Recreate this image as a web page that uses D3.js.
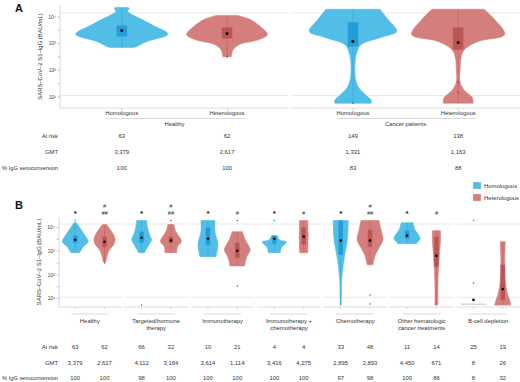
<!DOCTYPE html>
<html><head><meta charset="utf-8">
<script src="https://cdn.jsdelivr.net/npm/d3@7"></script>
<style>body{margin:0;background:#fff}svg{display:block;font-family:"Liberation Sans",Arial,sans-serif}</style>
</head><body><svg id="c" width="520" height="382"></svg>
<script>
// ---------- data ----------
const vaccineTypes = ["Homologous", "Heterologous"];
const yTickLabels = ["10¹", "10²", "10³", "10⁴"];
const yTickValues = [1, 2, 3, 4];
const rowLabels = ["At risk", "GMT", "% IgG seroconversion"];
const yTitle = "SARS–CoV–2 S1–IgG (BAU/mL)";

// Panel A
const aGroups = ["Healthy", "Cancer patients"];
const aAtRisk = [63, 62, 149, 138];
const aGMT = ["3,379", "2,617", "1,331", "1,163"];
const aSero = [100, 100, 83, 88];
// violin density profiles: [log10 value, relative half-width]
const aProfiles = [
  [[2.85,0.25],[2.89,0.32],[3.08,0.54],[3.27,0.92],[3.34,0.99],[3.42,0.97],[3.65,0.71],[3.91,0.43],[4.14,0.17],[4.22,0.12],[4.30,0.16],[4.36,0.14]],
  [[2.51,0.09],[2.77,0.13],[2.96,0.26],[3.15,0.69],[3.34,0.87],[3.65,0.71],[3.91,0.49],[4.06,0.22]],
  [[0.76,0.39],[0.87,0.39],[1.06,0.28],[1.33,0.13],[1.63,0.06],[2.01,0.04],[2.39,0.05],[2.70,0.09],[2.96,0.17],[3.23,0.6],[3.46,0.94],[3.91,0.75],[4.29,0.58]],
  [[0.76,0.32],[0.83,0.32],[0.98,0.3],[1.25,0.13],[1.55,0.04],[2.01,0.04],[2.46,0.06],[2.77,0.13],[3.08,0.43],[3.34,1.0],[3.91,0.78],[4.29,0.56]]
];
// [q1, median, q3] in log10
const aBoxes = [[3.27,3.49,3.68],[3.19,3.38,3.61],[2.89,3.08,3.80],[2.77,3.04,3.61]];
const aOutliers = [[], [2.51], [0.76], [1.56, 1.17]];

// Panel B
const bGroups = ["Healthy", "Targeted/hormone\ntherapy", "Immunotherapy", "Immunotherapy +\nchemotherapy", "Chemotherapy", "Other hematologic\ncancer treatments", "B-cell depletion"];
const bAtRisk = [63, 62, 66, 32, 10, 21, 4, 4, 33, 48, 11, 14, 25, 19];
const bGMT = ["3,379", "2,617", "4,112", "3,164", "3,614", "1,114", "3,416", "4,275", "2,895", "2,893", "4,450", "671", "8", "26"];
const bSero = [100, 100, 98, 100, 100, 100, 100, 100, 97, 98, 100, 86, 8, 32];
const bProfiles = [
  [[2.94,0.3],[2.98,0.37],[3.19,0.59],[3.40,0.96],[3.62,0.78],[3.91,0.44],[4.13,0.18],[4.21,0.1]],
  [[2.55,0.1],[2.81,0.19],[3.06,0.37],[3.28,0.67],[3.49,0.78],[3.70,0.67],[3.91,0.44],[4.13,0.15]],
  [[2.94,0.22],[3.11,0.37],[3.32,0.59],[3.49,0.74],[3.70,0.59],[4.0,0.44],[4.30,0.37]],
  [[2.94,0.44],[3.06,0.44],[3.23,0.52],[3.40,0.78],[3.57,0.67],[3.83,0.37],[4.13,0.22]],
  [[2.77,0.59],[2.98,0.67],[3.28,0.74],[3.49,0.67],[3.83,0.52],[4.30,0.52]],
  [[2.38,0.55],[2.55,0.59],[2.81,0.74],[3.06,0.96],[3.49,0.59],[3.83,0.37]],
  [[2.94,0.44],[3.15,0.52],[3.32,0.81],[3.40,0.89],[3.49,0.37],[3.66,0.22]],
  [[2.94,0.3],[3.6,0.33],[4.30,0.3]],
  [[0.72,0.04],[1.15,0.05],[1.79,0.07],[2.43,0.19],[2.85,0.3],[3.28,0.44],[3.70,0.52],[4.30,0.56]],
  [[2.43,0.22],[2.81,0.37],[3.15,0.67],[3.49,0.96],[3.91,0.81],[4.30,0.67]],
  [[3.32,0.67],[3.40,0.81],[3.53,0.96],[3.66,0.89],[3.91,0.59],[4.21,0.44]],
  [[0.72,0.11],[1.57,0.11],[2.21,0.15],[2.85,0.22],[3.49,0.3],[3.87,0.3]],
  [[0.76,0.93],[0.78,0.93]],
  [[0.72,0.6],[0.94,0.5],[1.15,0.37],[1.57,0.22],[2.21,0.15],[2.85,0.15],[3.40,0.19]]
];
const bBoxes = [
  [3.36,3.49,3.66],[3.19,3.40,3.62],[3.36,3.57,3.83],[3.36,3.45,3.62],
  [3.28,3.53,4.0],[2.72,3.02,3.36],[3.32,3.53,3.66],[3.28,3.62,4.0],
  [2.85,3.45,4.30],[3.19,3.45,3.91],[3.53,3.66,3.87],[2.34,2.81,3.62],
  [0.94,0.94,0.94],[0.94,1.40,2.43]
];
const bOutliers = [[4.30],[2.51],[0.72],[4.30],[],[4.30,1.53],[4.30],[],[],[1.15,0.77],[],[],[4.30,1.66],[]];
const bStars = ["*", "*", "*", "*", "*", "*", ""];
const bHashes = [["#","##"],["#","##"],["#"],["#"],["#","##"],["#"],[]];

const refLines = [4.15, 1.05];

// ---------- drawing ----------
const colors = {
  Homologous: {fill: "#52bde7", box: "#1b98d3", pt: "#1b98d3"},
  Heterologous: {fill: "#d47f7d", box: "#b74f4d", pt: "#c03c39"}
};
const svg = d3.select("#c");
const FS = 5.9;

function fitText(sel, maxW) {
  const n = sel.node();
  if (n.getComputedTextLength() > maxW) sel.attr("textLength", maxW).attr("lengthAdjust", "spacingAndGlyphs");
}

function drawPanel(o) {
  const g = svg.append("g");
  const fx = d3.scaleBand().domain(o.groups).range(o.xRange).paddingInner(o.facetPad);
  const ix = d3.scalePoint().domain(vaccineTypes).range([0, fx.bandwidth()]).padding(0.587);
  const y = d3.scaleLinear().domain(o.yDomain).range(o.yRange);
  const w = d3.scaleLinear().domain([0, 1]).range([0, o.maxHW]);
  const xPos = (gi, vi) => fx(o.groups[gi]) + ix(vaccineTypes[vi]);

  o.groups.forEach((grp, gi) => {
    const x0 = fx(grp), x1 = x0 + fx.bandwidth();
    refLines.forEach(v => g.append("line").attr("x1", x0).attr("x2", x1)
      .attr("y1", y(v)).attr("y2", y(v)).attr("stroke", "#e4e4e4").attr("stroke-width", 0.8));
    g.append("line").attr("x1", x0).attr("x2", x1).attr("y1", o.yRange[0]).attr("y2", o.yRange[0])
      .attr("stroke", "#d4d4d4").attr("stroke-width", 0.8);
    vaccineTypes.forEach((vt, vi) => g.append("line").attr("x1", xPos(gi, vi)).attr("x2", xPos(gi, vi))
      .attr("y1", o.yRange[0]).attr("y2", o.yRange[0] + 2).attr("stroke", "#bbb").attr("stroke-width", 0.6));
    g.append("line").attr("x1", xPos(gi, 0) - o.brPad[0]).attr("x2", xPos(gi, 1) + o.brPad[1])
      .attr("y1", o.brY).attr("y2", o.brY).attr("stroke", "#d0d0d0").attr("stroke-width", 0.8);
    const lines = grp.split("\n");
    const cxF = fx(grp) + fx.bandwidth() / 2;
    const t = g.append("text").attr("x", cxF).attr("y", o.glY)
      .attr("text-anchor", "middle").attr("font-size", FS).attr("fill", "#333");
    lines.forEach((l, li) => t.append("tspan").attr("x", cxF).attr("dy", li ? 6.5 : 0).text(l));
    if (o.catLabels) vaccineTypes.forEach((vt, vi) => g.append("text").attr("x", xPos(gi, vi)).attr("y", o.catY)
      .attr("text-anchor", "middle").attr("font-size", FS).attr("fill", "#333").text(vt));
  });

  // y axis
  g.append("line").attr("x1", o.axisX).attr("x2", o.axisX).attr("y1", o.yRange[0]).attr("y2", o.yRange[1])
    .attr("stroke", "#cfcfcf").attr("stroke-width", 0.8);
  d3.range(1, 4.01, 0.5).forEach(v => g.append("line").attr("x1", o.axisX - 2.5).attr("x2", o.axisX)
    .attr("y1", y(v)).attr("y2", y(v)).attr("stroke", "#aaa").attr("stroke-width", 0.6));
  yTickValues.forEach((v, i) => g.append("text").attr("x", o.axisX - 4).attr("y", y(v) + 1.8)
    .attr("text-anchor", "end").attr("font-size", 5).attr("fill", "#444").text(yTickLabels[i]));
  const yc = (o.yRange[0] + o.yRange[1]) / 2;
  g.append("text").attr("transform", `translate(${o.axisX - 18},${yc}) rotate(-90)`)
    .attr("text-anchor", "middle").attr("font-size", FS).attr("fill", "#333").text(yTitle);

  // violins
  const area = d3.area().curve(d3.curveCatmullRom.alpha(0.5));
  o.profiles.forEach((prof, k) => {
    const gi = Math.floor(k / 2), vi = k % 2, vt = vaccineTypes[vi], c = colors[vt];
    const cx = xPos(gi, vi);
    const ext = d3.extent(prof, d => d[0]);
    const flat = Math.abs(y(ext[0]) - y(ext[1])) < 1.5;
    if (flat) {
      g.append("line").attr("x1", cx - w(prof[0][1])).attr("x2", cx + w(prof[0][1]))
        .attr("y1", y(ext[0])).attr("y2", y(ext[0])).attr("stroke", "#bdbdbd").attr("stroke-width", 0.9);
    } else {
      area.y(d => y(d[0])).x0(d => cx - w(d[1])).x1(d => cx + w(d[1]));
      g.append("path").attr("d", area(prof)).attr("fill", c.fill).attr("stroke", c.fill)
        .attr("stroke-width", 0.6);
      g.append("line").attr("x1", cx).attr("x2", cx).attr("y1", y(ext[0])).attr("y2", y(ext[1]))
        .attr("stroke", c.box).attr("stroke-width", 0.5).attr("opacity", 0.7);
    }
    const [q1, med, q3] = o.boxes[k];
    if (q3 > q1) g.append("rect").attr("x", cx - o.boxW / 2).attr("width", o.boxW)
      .attr("y", y(q3)).attr("height", y(q1) - y(q3)).attr("fill", c.box).attr("opacity", 0.85);
    o.outliers[k].forEach(v => g.append("circle").attr("cx", cx).attr("cy", y(v)).attr("r", o.ptR)
      .attr("fill", c.pt));
    g.append("circle").attr("cx", cx).attr("cy", y(med)).attr("r", o.medR).attr("fill", "#000");
  });

  // table
  o.rows.forEach((vals, ri) => {
    const ty = o.tableY[ri];
    const lab = g.append("text").attr("x", 58).attr("y", ty).attr("text-anchor", "end").attr("font-size", FS)
      .attr("fill", "#333").text(rowLabels[ri]);
    fitText(lab, 56);
    vals.forEach((v, k) => g.append("text").attr("x", xPos(Math.floor(k / 2), k % 2)).attr("y", ty)
      .attr("text-anchor", "middle").attr("font-size", FS).attr("fill", "#333").text(v));
  });

  if (o.stars) o.groups.forEach((grp, gi) => {
    if (o.stars[gi]) g.append("text").attr("x", xPos(gi, 0)).attr("y", o.annY + 3.2).attr("text-anchor", "middle")
      .attr("font-size", 8).attr("font-weight", "bold").attr("fill", "#111").text(o.stars[gi]);
    const hs = o.hashes[gi];
    hs.slice().reverse().forEach((h, hi) => g.append("text").attr("x", xPos(gi, 1)).attr("y", o.annY + 2 - hi * 7)
      .attr("text-anchor", "middle").attr("font-size", 5.5).attr("font-style", "italic").attr("fill", "#333").text(h));
  });
  return g;
}

drawPanel({
  groups: aGroups, xRange: [60, 520], facetPad: 0.01, yDomain: [0.58, 4.45], yRange: [108, 5],
  maxHW: 46.5, axisX: 60, profiles: aProfiles, boxes: aBoxes, outliers: aOutliers,
  boxW: 10.5, medR: 1.5, ptR: 0.9, brY: 118.5, brPad: [16, 18], glY: 125.5, catLabels: true, catY: 115,
  rows: [aAtRisk, aGMT, aSero], tableY: [138, 154, 169.5]
});
drawPanel({
  groups: bGroups, xRange: [58, 520], facetPad: 0.04, yDomain: [0.64, 4.45], yRange: [307, 217],
  maxHW: 13.5, axisX: 59, profiles: bProfiles, boxes: bBoxes, outliers: bOutliers,
  boxW: 4.5, medR: 1.3, ptR: 0.8, brY: 314, brPad: [4, 4], glY: 323, catLabels: false,
  rows: [bAtRisk, bGMT, bSero], tableY: [349, 365, 380],
  stars: bStars, hashes: bHashes, annY: 213
});

svg.append("text").attr("x", 15).attr("y", 11.5).attr("font-size", 11).attr("font-weight", "bold").attr("fill", "#111").text("A");
svg.append("text").attr("x", 15).attr("y", 208.5).attr("font-size", 11).attr("font-weight", "bold").attr("fill", "#111").text("B");

const leg = svg.append("g");
vaccineTypes.forEach((vt, i) => {
  leg.append("rect").attr("x", 473).attr("y", 182 + i * 12).attr("width", 8).attr("height", 7)
    .attr("fill", colors[vt].fill).attr("stroke", "#ddd").attr("stroke-width", 0.4);
  leg.append("text").attr("x", 484).attr("y", 188 + i * 12).attr("font-size", FS).attr("fill", "#333").text(vt);
});
</script></body></html>
